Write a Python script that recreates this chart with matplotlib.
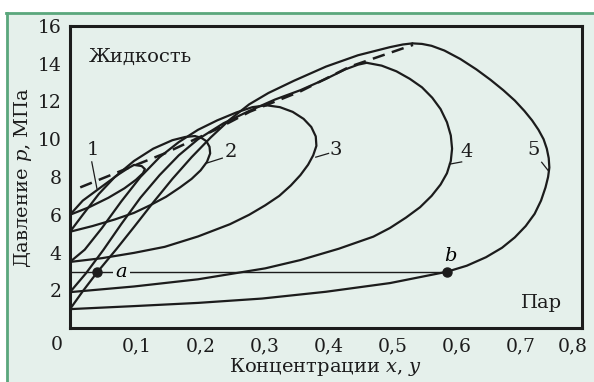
import matplotlib
matplotlib.use("Agg")
import matplotlib.pyplot as plt
from matplotlib.patches import Rectangle
from matplotlib.lines import Line2D
from matplotlib.transforms import ScaledTranslation

plt.rcParams['font.family'] = ['DejaVu Serif']
plt.rcParams['mathtext.fontset'] = 'dejavuserif'

# ---- данные: петли (x, p), нижняя ветвь (пар) и верхняя ветвь (жидкость)
loop1_low_x = [0, 0.03, 0.06, 0.085, 0.103, 0.114, 0.117, 0.112, 0.1]
loop1_low_p = [6.0, 6.4, 6.9, 7.4, 7.85, 8.2, 8.42, 8.58, 8.64]
loop1_up_x = [0, 0.02, 0.05, 0.075, 0.09, 0.1]
loop1_up_p = [6.0, 6.75, 7.5, 8.12, 8.45, 8.64]

loop2_low_x = [0, 0.035, 0.07, 0.1, 0.125, 0.15, 0.172, 0.19, 0.204, 0.214, 0.219,
               0.218, 0.213, 0.205, 0.195]
loop2_low_p = [5.1, 5.4, 5.75, 6.1, 6.5, 6.95, 7.45, 7.9, 8.35, 8.8, 9.25,
               9.6, 9.9, 10.08, 10.17]
loop2_up_x = [0, 0.02, 0.045, 0.07, 0.1, 0.13, 0.16, 0.18, 0.195]
loop2_up_p = [5.1, 6.0, 7.1, 8.0, 8.85, 9.5, 9.95, 10.12, 10.17]

loop3_low_x = [0, 0.05, 0.1, 0.148, 0.2, 0.25, 0.28, 0.305, 0.327, 0.345, 0.36, 0.372,
               0.38, 0.385, 0.384, 0.377, 0.365, 0.348, 0.328, 0.307]
loop3_low_p = [3.5, 3.7, 3.98, 4.3, 4.85, 5.5, 6.0, 6.5, 7.0, 7.55, 8.1, 8.65,
               9.15, 9.65, 10.15, 10.65, 11.08, 11.45, 11.7, 11.8]
loop3_up_x = [0, 0.023, 0.05, 0.08, 0.11, 0.14, 0.17, 0.2, 0.23, 0.26, 0.285, 0.307]
loop3_up_p = [3.5, 4.15, 5.3, 6.7, 8.0, 9.05, 9.85, 10.5, 11.0, 11.42, 11.7, 11.8]

loop4_low_x = [0, 0.1, 0.2, 0.305, 0.36, 0.42, 0.474, 0.5, 0.525, 0.547, 0.565, 0.579,
               0.589, 0.595, 0.597, 0.595, 0.589, 0.579, 0.566, 0.55, 0.531, 0.51,
               0.487, 0.4635]
loop4_low_p = [1.9, 2.2, 2.58, 3.16, 3.6, 4.2, 4.84, 5.3, 5.85, 6.4, 7.0, 7.6,
               8.2, 8.85, 9.5, 10.2, 10.9, 11.6, 12.2, 12.75, 13.2, 13.6,
               13.9, 14.05]
loop4_up_x = [0, 0.025, 0.052, 0.08, 0.11, 0.14, 0.17, 0.2, 0.24, 0.28, 0.32, 0.36,
              0.4, 0.43, 0.45, 0.4635]
loop4_up_p = [1.9, 2.9, 4.13, 5.5, 6.9, 8.1, 9.15, 10.0, 10.85, 11.5, 12.1, 12.6,
              13.2, 13.7, 13.95, 14.05]

loop5_low_x = [0, 0.05, 0.1, 0.2, 0.3, 0.4, 0.5, 0.589, 0.62, 0.65, 0.675, 0.695,
               0.712, 0.726, 0.736, 0.743, 0.747, 0.749, 0.748, 0.745, 0.74, 0.732,
               0.722, 0.71, 0.695, 0.677, 0.657, 0.635, 0.61, 0.585, 0.565, 0.55,
               0.535]
loop5_low_p = [1.0, 1.08, 1.16, 1.33, 1.56, 1.92, 2.38, 2.98, 3.3, 3.75, 4.25, 4.8,
               5.4, 6.05, 6.75, 7.45, 8.0, 8.5, 9.0, 9.5, 10.0, 10.5,
               11.0, 11.5, 12.05, 12.6, 13.15, 13.7, 14.25, 14.7, 14.95, 15.05,
               15.08]
loop5_up_x = [0, 0.02, 0.042, 0.073, 0.1, 0.13, 0.16, 0.19, 0.22, 0.25, 0.28, 0.31,
              0.35, 0.4, 0.45, 0.5, 0.52, 0.535]
loop5_up_p = [1.0, 1.95, 2.93, 4.2, 5.35, 6.65, 7.9, 9.05, 10.1, 11.05, 11.85, 12.45,
              13.1, 13.85, 14.45, 14.88, 15.02, 15.08]

# критическая кривая (штрих)
crit_x = [0.016, 0.1, 0.148, 0.227, 0.281, 0.359, 0.4375, 0.536]
crit_p = [7.45, 8.6, 9.25, 10.5, 11.46, 12.52, 13.85, 15.0]

# коннода a-b
tie_p = 2.95
a_x, b_x = 0.042, 0.589

xticks = [0.1, 0.2, 0.3, 0.4, 0.5, 0.6, 0.7, 0.8]
xticklabels = ['0,1', '0,2', '0,3', '0,4', '0,5', '0,6', '0,7', '0,8']
yticks = [2, 4, 6, 8, 10, 12, 14, 16]

BG = '#e5f0eb'
GREEN = '#5aa77c'
INK = '#1c1c1c'

W, H = 594, 382
fig = plt.figure(figsize=(W / 100, H / 100), dpi=100, facecolor='white')
fig.patches.append(Rectangle((6 / W, 0), 1, (H - 13) / H, transform=fig.transFigure,
                             facecolor=BG, edgecolor='none', zorder=-10))
fig.lines.append(Line2D([6 / W, 1], [(H - 13) / H] * 2, transform=fig.transFigure,
                        color=GREEN, lw=2.0, zorder=-5))
fig.lines.append(Line2D([7 / W] * 2, [0, (H - 13) / H], transform=fig.transFigure,
                        color=GREEN, lw=2.0, zorder=-5))

ax = fig.add_axes([70 / W, (H - 328) / H, 512 / W, 302 / H])
ax.set_facecolor(BG)
ax.set_xlim(0, 0.8)
ax.set_ylim(0, 16)

lw = 1.6
loops = [
    (loop1_low_x, loop1_low_p, loop1_up_x, loop1_up_p),
    (loop2_low_x, loop2_low_p, loop2_up_x, loop2_up_p),
    (loop3_low_x, loop3_low_p, loop3_up_x, loop3_up_p),
    (loop4_low_x, loop4_low_p, loop4_up_x, loop4_up_p),
    (loop5_low_x, loop5_low_p, loop5_up_x, loop5_up_p),
]
for lx, lp, ux, up in loops:
    ax.plot(lx, lp, color=INK, lw=lw, solid_joinstyle='round', solid_capstyle='round')
    ax.plot(ux, up, color=INK, lw=lw, solid_joinstyle='round', solid_capstyle='round')

ax.plot(crit_x, crit_p, color=INK, lw=1.8, dashes=(5, 3))

ax.plot([0, b_x], [tie_p, tie_p], color=INK, lw=1.0)
ax.plot([a_x, b_x], [tie_p, tie_p], 'o', color=INK, ms=6.5)
ax.text(0.08, tie_p, '$a$', fontsize=14, ha='center', va='center',
        bbox=dict(facecolor=BG, edgecolor='none', pad=1.5))
ax.text(0.595, 3.8, '$b$', fontsize=14, ha='center', va='center')

# номера кривых с выносками
labels = [('1', 0.036, 9.45, (0.034, 8.8), (0.042, 7.4)),
          ('2', 0.252, 9.35, (0.238, 9.0), (0.212, 8.72)),
          ('3', 0.416, 9.45, (0.404, 9.25), (0.384, 9.05)),
          ('4', 0.619, 9.35, (0.612, 8.8), (0.593, 8.68)),
          ('5', 0.724, 9.45, (0.737, 8.78), (0.747, 8.35))]
for t, tx, ty, p1, p2 in labels:
    ax.text(tx, ty, t, fontsize=14, ha='center', va='center', color=INK)
    ax.plot([p1[0], p2[0]], [p1[1], p2[1]], color=INK, lw=0.9)

ax.text(0.03, 14.35, 'Жидкость', fontsize=14, ha='left', va='center', color=INK)
ax.text(0.737, 1.3, 'Пар', fontsize=14, ha='center', va='center', color=INK)

ax.set_xticks(xticks)
ax.set_xticklabels(xticklabels)
ax.set_yticks(yticks)
ax.tick_params(length=0, labelsize=13.5, colors=INK, pad=7)
ax.tick_params(axis='y', pad=6)
for lab in ax.get_xticklabels():
    lab.set_transform(lab.get_transform() + ScaledTranslation(3 / 100, 0, fig.dpi_scale_trans))
last = ax.get_xticklabels()[-1]
last.set_transform(last.get_transform() + ScaledTranslation(-12 / 100, 0, fig.dpi_scale_trans))
fig.text(57 / W, 1 - 345 / H, '0', fontsize=13.5, ha='center', va='center', color=INK)

for s in ax.spines.values():
    s.set_linewidth(2.2)
    s.set_color(INK)

ax.set_xlabel('Концентрации $x$, $y$', fontsize=14, color=INK, labelpad=0)
ax.set_ylabel('Давление $p$, МПа', fontsize=14, color=INK, labelpad=3)

fig.savefig('out.png', dpi=100, facecolor='white')
